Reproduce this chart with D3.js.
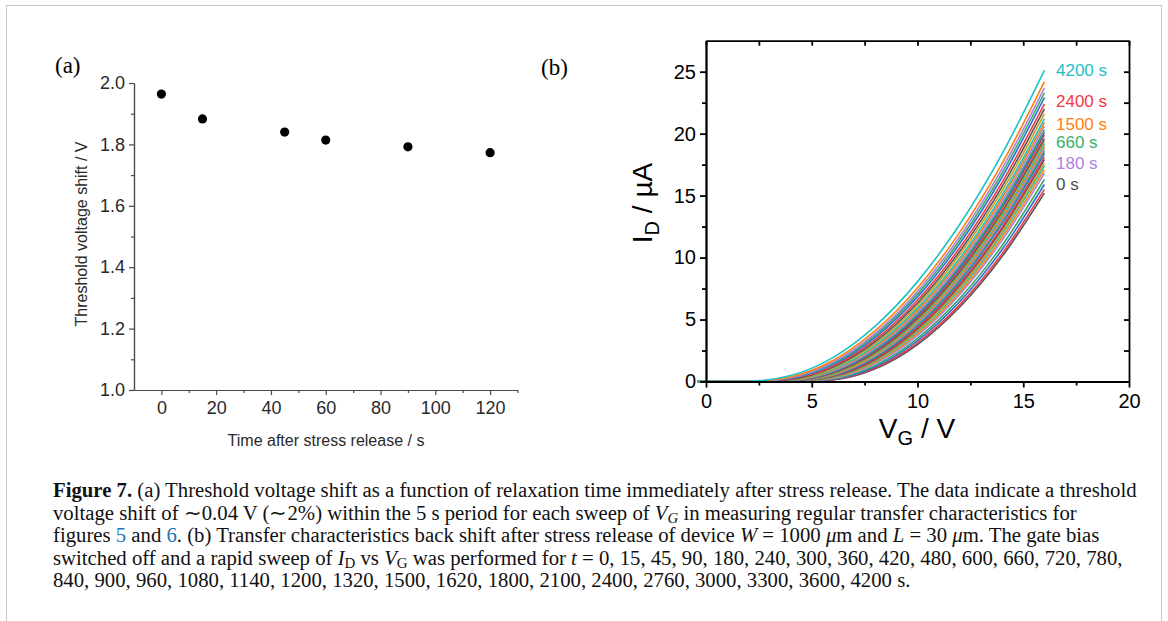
<!DOCTYPE html>
<meta charset="utf-8">
<style>
  html, body { margin: 0; padding: 0; background: #fff; }
  svg text { font-family: 'Liberation Sans', Arial, sans-serif; }
  .caption text { font-family: 'Liberation Serif', 'Times New Roman', serif; font-size: 17px; fill: #111; }
</style>
<script src="https://d3js.org/d3.v7.min.js"></script>
<div id="fig"></div>
<script>
// ---- panel (a): threshold shift vs relaxation time
var relaxTime = [0, 15, 45, 60, 90, 120];
var vthShift = [1.964, 1.883, 1.840, 1.814, 1.792, 1.773];
var aXTicks = [0, 20, 40, 60, 80, 100, 120];
var aXMinor = [10, 30, 50, 70, 90, 110, 130];
var aYTicks = [1.0, 1.2, 1.4, 1.6, 1.8, 2.0];
var aYMinor = [1.1, 1.3, 1.5, 1.7, 1.9];

// ---- panel (b): transfer curves after stress release
var sweepTimes = [0, 15, 45, 90, 180, 240, 300, 360, 420, 480, 600, 660, 720, 780,
  840, 900, 960, 1080, 1140, 1200, 1320, 1500, 1620, 1800, 2100, 2400, 2760, 3000, 3300, 3600, 4200];
var vgGrid = [-0.4, 2, 4, 6, 8, 10, 12, 14, 16];
// I_D (uA) at each vgGrid point, one row per sweep time
var idCurves = [
  [0, 0, 0.00, 0.13, 1.02, 2.98, 6.01, 10.08, 15.2],
  [0, 0, 0.00, 0.15, 1.10, 3.12, 6.20, 10.32, 15.5],
  [0, 0, 0.00, 0.18, 1.19, 3.30, 6.45, 10.65, 15.9],
  [0, 0, 0.01, 0.22, 1.30, 3.48, 6.71, 10.98, 16.3],
  [0, 0, 0.01, 0.27, 1.45, 3.71, 7.03, 11.39, 16.8],
  [0, 0, 0.01, 0.30, 1.54, 3.86, 7.22, 11.64, 17.1],
  [0, 0, 0.01, 0.34, 1.63, 4.00, 7.42, 11.89, 17.4],
  [0, 0, 0.01, 0.37, 1.69, 4.10, 7.55, 12.05, 17.6],
  [0, 0, 0.02, 0.41, 1.78, 4.24, 7.75, 12.30, 17.9],
  [0, 0, 0.02, 0.44, 1.85, 4.34, 7.88, 12.46, 18.1],
  [0, 0, 0.03, 0.48, 1.94, 4.49, 8.08, 12.72, 18.4],
  [0, 0, 0.03, 0.51, 2.01, 4.59, 8.21, 12.88, 18.6],
  [0, 0, 0.03, 0.54, 2.08, 4.69, 8.34, 13.05, 18.8],
  [0, 0, 0.04, 0.57, 2.14, 4.78, 8.48, 13.21, 19.0],
  [0, 0, 0.04, 0.61, 2.21, 4.88, 8.61, 13.38, 19.2],
  [0, 0, 0.05, 0.64, 2.28, 4.99, 8.74, 13.55, 19.4],
  [0, 0, 0.05, 0.68, 2.35, 5.09, 8.88, 13.71, 19.6],
  [0, 0, 0.06, 0.73, 2.45, 5.24, 9.08, 13.97, 19.9],
  [0, 0, 0.07, 0.77, 2.52, 5.34, 9.22, 14.13, 20.1],
  [0, 0, 0.08, 0.80, 2.59, 5.45, 9.35, 14.30, 20.3],
  [0, 0, 0.09, 0.86, 2.70, 5.60, 9.55, 14.55, 20.6],
  [0, 0, 0.10, 0.93, 2.81, 5.76, 9.76, 14.81, 20.9],
  [0, 0, 0.12, 0.99, 2.92, 5.92, 9.96, 15.06, 21.2],
  [0, 0, 0.14, 1.07, 3.07, 6.13, 10.24, 15.40, 21.6],
  [0, 0, 0.17, 1.16, 3.22, 6.34, 10.51, 15.73, 22.0],
  [0, 0, 0.20, 1.24, 3.38, 6.56, 10.79, 16.07, 22.4],
  [0, 0, 0.24, 1.36, 3.57, 6.83, 11.14, 16.50, 22.9],
  [0, 0.01, 0.28, 1.46, 3.73, 7.05, 11.42, 16.83, 23.3],
  [0, 0.01, 0.31, 1.56, 3.89, 7.27, 11.70, 17.18, 23.7],
  [0, 0.01, 0.37, 1.69, 4.10, 7.55, 12.05, 17.60, 24.2],
  [0, 0.02, 0.48, 1.93, 4.47, 8.06, 12.69, 18.37, 25.1]
];
var curveColors = ["#555555", "#ee3a40", "#2f6fd6", "#3aa866", "#a884e2", "#ff7f0e", "#1cc3c6", "#c9a020"];
var bXTicks = [0, 5, 10, 15, 20];
var bXMinor = [2.5, 7.5, 12.5, 17.5];
var bYTicks = [0, 5, 10, 15, 20, 25];
var bYMinor = [2.5, 7.5, 12.5, 17.5, 22.5];
var labelNames = ["4200 s", "2400 s", "1500 s", "660 s", "180 s", "0 s"];
var labelAt = [25.1, 22.6, 20.8, 19.3, 17.6, 15.9];
var labelColors = ["#1fbfc4", "#f0393f", "#ff7f0e", "#3cae6a", "#b07ee3", "#4d4d4d"];

var svg = d3.select("#fig").append("svg")
  .attr("width", 1168).attr("height", 621);

// light frame round the figure
svg.append("path")
  .attr("d", "M6.5,640 V5.5 H1161.5 V640")
  .attr("fill", "none").attr("stroke", "#c8c8c8").attr("stroke-width", 1);

// ================= panel (a) =================
var xa = d3.scaleLinear().domain([-10, 130]).range([134, 517.5]);
var ya = d3.scaleLinear().domain([1, 2]).range([390, 83]);
var ga = svg.append("g");

function styleAxis(g, col, w) {
  g.select(".domain").attr("stroke", col).attr("stroke-width", w);
  g.selectAll(".tick line").attr("stroke", col).attr("stroke-width", w);
}

var axA1 = ga.append("g").attr("transform", "translate(0,390)")
  .call(d3.axisBottom(xa).tickValues(aXTicks).tickSize(5).tickSizeOuter(0).tickPadding(6));
var axA2 = ga.append("g").attr("transform", "translate(0,390)")
  .call(d3.axisBottom(xa).tickValues(aXMinor).tickSize(3).tickSizeOuter(0).tickFormat(""));
var axA3 = ga.append("g").attr("transform", "translate(134,0)")
  .call(d3.axisLeft(ya).tickValues(aYTicks).tickSize(5).tickSizeOuter(0).tickPadding(4).tickFormat(d3.format(".1f")));
var axA4 = ga.append("g").attr("transform", "translate(134,0)")
  .call(d3.axisLeft(ya).tickValues(aYMinor).tickSize(3).tickSizeOuter(0).tickFormat(""));
[axA1, axA2, axA3, axA4].forEach(function (g) { styleAxis(g, "#4a4a4a", 1.2); });
ga.selectAll(".tick text").attr("font-size", 18).attr("fill", "#2a2a2a")
  .attr("font-family", "'Liberation Sans', Arial, sans-serif");

ga.selectAll("circle").data(relaxTime).enter().append("circle")
  .attr("cx", function (d) { return xa(d); })
  .attr("cy", function (d, i) { return ya(vthShift[i]); })
  .attr("r", 4.6).attr("fill", "#000");

ga.append("text").attr("x", 326).attr("y", 446).attr("text-anchor", "middle")
  .attr("font-size", 16).attr("fill", "#2a2a2a").text("Time after stress release / s");
ga.append("text").attr("transform", "translate(87,234) rotate(-90)").attr("text-anchor", "middle")
  .attr("font-size", 16).attr("fill", "#2a2a2a").text("Threshold voltage shift / V");
svg.append("text").attr("x", 55).attr("y", 73).attr("font-size", 23)
  .style("font-family", "'Liberation Serif', serif").text("(a)");

// ================= panel (b) =================
var xb = d3.scaleLinear().domain([0, 20]).range([706, 1129]);
var yb = d3.scaleLinear().domain([0, 27.5]).range([381.5, 40.7]);
var gb = svg.append("g");

var line = d3.line()
  .x(function (d, i) { return xb(vgGrid[i]); })
  .y(function (d) { return yb(d); })
  .curve(d3.curveMonotoneX);

gb.selectAll("path.id").data(idCurves).enter().append("path")
  .attr("class", "id")
  .attr("d", line)
  .attr("fill", "none")
  .attr("stroke-width", 1.6)
  .attr("stroke", function (d, i) { return curveColors[i % curveColors.length]; });

var axB = [];
axB.push(gb.append("g").attr("transform", "translate(0,381.5)")
  .call(d3.axisBottom(xb).tickValues(bXTicks).tickSize(6).tickSizeOuter(0).tickPadding(6)));
axB.push(gb.append("g").attr("transform", "translate(0,381.5)")
  .call(d3.axisBottom(xb).tickValues(bXMinor).tickSize(4).tickSizeOuter(0).tickFormat("")));
axB.push(gb.append("g").attr("transform", "translate(706,0)")
  .call(d3.axisLeft(yb).tickValues(bYTicks).tickSize(6).tickSizeOuter(0).tickPadding(4)));
axB.push(gb.append("g").attr("transform", "translate(706,0)")
  .call(d3.axisLeft(yb).tickValues(bYMinor).tickSize(4).tickSizeOuter(0).tickFormat("")));
axB.push(gb.append("g").attr("transform", "translate(0,40.7)")
  .call(d3.axisTop(xb).tickValues(bXTicks.concat(bXMinor)).tickSize(-5).tickSizeOuter(0).tickFormat("")));
axB.push(gb.append("g").attr("transform", "translate(1129,0)")
  .call(d3.axisRight(yb).tickValues(bYTicks.concat(bYMinor)).tickSize(-5).tickSizeOuter(0).tickFormat("")));
axB.forEach(function (g) { styleAxis(g, "#000", 1.8); });
gb.selectAll(".tick text").attr("font-size", 20).attr("fill", "#000")
  .attr("font-family", "'Liberation Sans', Arial, sans-serif");

gb.selectAll("text.lab").data(labelNames).enter().append("text")
  .attr("class", "lab")
  .attr("x", 1056)
  .attr("y", function (d, i) { return yb(labelAt[i]); })
  .attr("dy", "0.35em")
  .attr("font-size", 17)
  .attr("fill", function (d, i) { return labelColors[i]; })
  .text(function (d) { return d; });

var tY = gb.append("text").attr("transform", "translate(652,203) rotate(-90)")
  .attr("text-anchor", "middle").attr("font-size", 28).attr("fill", "#000");
tY.append("tspan").text("I");
tY.append("tspan").attr("font-size", 20).attr("dy", 7).text("D");
tY.append("tspan").attr("dy", -7).text(" / \u00b5A");

var tX = gb.append("text").attr("x", 917).attr("y", 438)
  .attr("text-anchor", "middle").attr("font-size", 28).attr("fill", "#000");
tX.append("tspan").text("V");
tX.append("tspan").attr("font-size", 20).attr("dy", 7).text("G");
tX.append("tspan").attr("dy", -7).text(" / V");

svg.append("text").attr("x", 541).attr("y", 75).attr("font-size", 23)
  .style("font-family", "'Liberation Serif', serif").text("(b)");

// ================= caption =================
var cap = svg.append("g").attr("class", "caption");
var blue = "#1b75bc";
var capLines = [
  [["Figure 7.", "b"], [" (a) Threshold voltage shift as a function of relaxation time immediately after stress release. The data indicate a threshold"]],
  [["voltage shift of \u223c0.04 V (\u223c2%) within the 5 s period for each sweep of "], ["V", "i"], ["G", "isub"], [" in measuring regular transfer characteristics for"]],
  [["figures "], ["5", "blue"], [" and "], ["6", "blue"], [". (b) Transfer characteristics back shift after stress release of device "], ["W", "i"],
    [" = 1000 "], ["\u03bc", "i"], ["m and "], ["L", "i"], [" = 30 "], ["\u03bc", "i"], ["m. The gate bias"]],
  [["switched off and a rapid sweep of "], ["I", "i"], ["D", "sub"], [" vs "], ["V", "i"], ["G", "sub"], [" was performed for "], ["t", "i"],
    [" = " + sweepTimes.slice(0, 14).join(", ") + ","]],
  [[sweepTimes.slice(14).join(", ") + " s."]]
];
var capTexts = [];
capLines.forEach(function (segs, li) {
  var t = cap.append("text").attr("x", 53).attr("y", 497 + li * 22.5);
  segs.forEach(function (s) {
    var sp = t.append("tspan").text(s[0]);
    if (s[1] === "b") sp.attr("font-weight", "bold");
    if (s[1] === "i") sp.attr("font-style", "italic");
    if (s[1] === "blue") sp.attr("fill", blue);
    if (s[1] === "sub" || s[1] === "isub") {
      sp.attr("class", "sub").attr("dy", 3);
      if (s[1] === "isub") sp.attr("font-style", "italic");
    }
  });
  // undo subscript shifts
  t.selectAll("tspan").each(function (d, i, nodes) {
    var prev = i > 0 ? d3.select(nodes[i - 1]).attr("dy") : null;
    if (prev === "3" && d3.select(this).attr("dy") === null) d3.select(this).attr("dy", -3);
  });
  capTexts.push(t);
});
// size the caption so the first line spans the same width as in the figure
var w0 = capTexts[0].node().getComputedTextLength();
var capSize = 17 * 1084 / w0;
cap.selectAll("text").style("font-size", capSize + "px");
cap.selectAll("tspan.sub").style("font-size", (capSize * 0.72) + "px");
</script>
